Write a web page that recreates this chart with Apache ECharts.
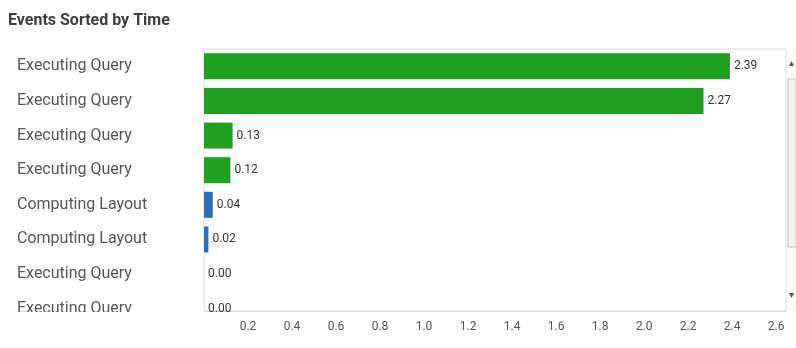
<!DOCTYPE html>
<html>
<head>
<meta charset="utf-8">
<script src="https://cdn.jsdelivr.net/npm/echarts@6/dist/echarts.min.js"></script>
<style>
  html, body { margin: 0; padding: 0; background: #fff; }
  #chart { width: 796px; height: 348px; }
</style>
</head>
<body>
<div id="chart"></div>
<script>
// Event list, longest first
const eventNames = [
  'Executing Query', 'Executing Query', 'Executing Query', 'Executing Query',
  'Computing Layout', 'Computing Layout', 'Executing Query', 'Executing Query'
];
const eventSeconds = [2.39, 2.27, 0.13, 0.12, 0.04, 0.02, 0.00, 0.00];
const eventKinds = ['query', 'query', 'query', 'query', 'layout', 'layout', 'query', 'query'];
const kindColors = { query: '#1f9f1f', layout: '#2a6fbf' };
const axisMax = 2.645;
const tickStep = 0.2;

const FONT = 'Roboto, "Liberation Sans Narrow", sans-serif';

const chart = echarts.init(document.getElementById('chart'), null, { renderer: 'canvas' });

const option = {
  animation: false,
  title: {
    text: 'Events Sorted by Time',
    left: 3, top: 8,
    textStyle: { fontFamily: FONT, fontSize: 16, fontWeight: 'bold', color: '#3d3d3d' }
  },
  grid: [
    // rows of the list (the last one runs past the visible frame)
    { left: 204, top: 49, width: 582, height: 277, show: false },
    // visible frame with the time axis
    { left: 204, top: 49, width: 582, height: 262, show: true,
      borderColor: '#dcdcdc', borderWidth: 1, backgroundColor: 'transparent' }
  ],
  xAxis: [
    { gridIndex: 0, type: 'value', min: 0, max: axisMax, show: false },
    { gridIndex: 1, type: 'value', min: 0, max: axisMax, interval: tickStep,
      axisLine: { show: true, lineStyle: { color: '#dcdcdc' } },
      axisTick: { show: true, length: 5, lineStyle: { color: '#d4d4d4' } },
      splitLine: { show: false },
      axisLabel: {
        showMinLabel: false, showMaxLabel: false, margin: 10,
        fontFamily: FONT, fontSize: 12, color: '#555',
        formatter: v => v.toFixed(1)
      }
    }
  ],
  yAxis: [
    { gridIndex: 0, type: 'category', inverse: true, data: eventNames,
      axisLine: { show: false }, axisTick: { show: false },
      axisLabel: { align: 'left', margin: 187, fontFamily: FONT, fontSize: 16, color: '#555' }
    },
    { gridIndex: 1, type: 'value', show: false }
  ],
  series: [{
    type: 'bar',
    xAxisIndex: 0, yAxisIndex: 0,
    barWidth: 26,
    data: eventSeconds.map((v, i) => ({ value: v, itemStyle: { color: kindColors[eventKinds[i]] } })),
    label: {
      show: true, position: 'right', distance: 4,
      fontFamily: FONT, fontSize: 12, color: '#333',
      formatter: p => p.value.toFixed(2)
    }
  }],
  graphic: [
    // hide the part of the list that is scrolled out of view
    { type: 'rect', z: 100, shape: { x: 0, y: 312, width: 786, height: 7 }, style: { fill: '#fff' } },
    // scroll bar
    { type: 'rect', z: 100, shape: { x: 787, y: 49, width: 9, height: 262 }, style: { fill: '#fafafa' } },
    { type: 'polygon', z: 101, shape: { points: [[789, 66], [794, 66], [791.5, 61]] }, style: { fill: '#555' } },
    { type: 'rect', z: 101, shape: { x: 788, y: 79, width: 8, height: 168 },
      style: { fill: '#f2f2f2', stroke: '#c4c4c4', lineWidth: 1 } },
    { type: 'polygon', z: 101, shape: { points: [[789, 293], [794, 293], [791.5, 298]] }, style: { fill: '#555' } }
  ]
};

chart.setOption(option);
</script>
</body>
</html>
